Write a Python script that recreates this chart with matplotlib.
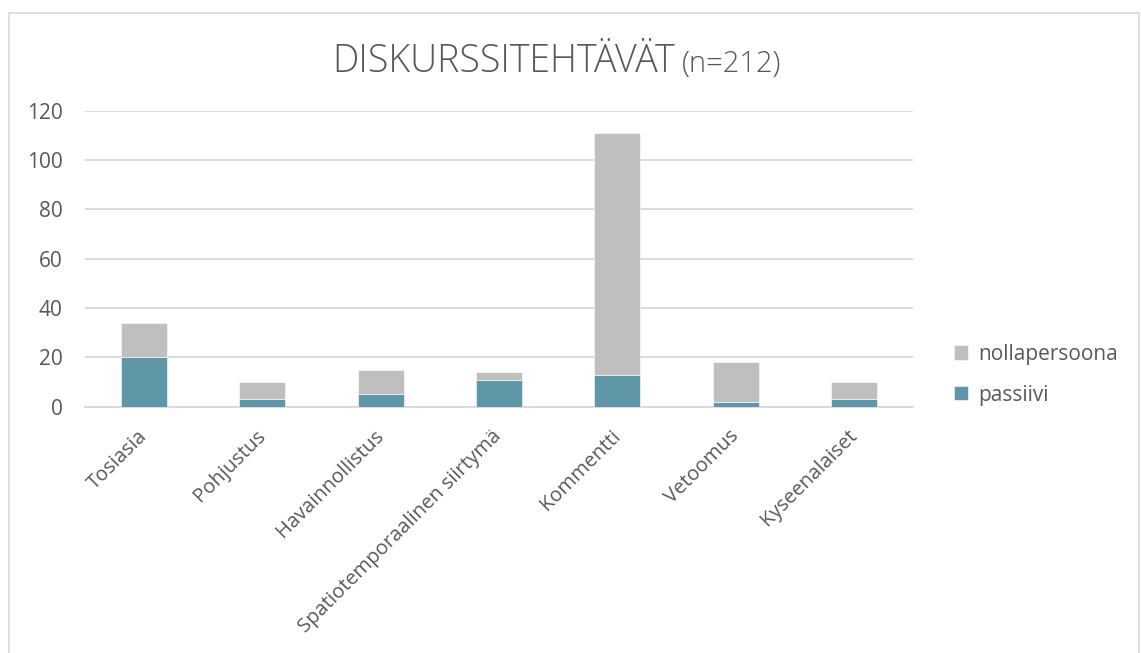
import numpy as np
import matplotlib.pyplot as plt
from matplotlib.patches import Rectangle

# data
categories = ["Tosiasia", "Pohjustus", "Havainnollistus", "Spatiotemporaalinen siirtymä",
              "Kommentti", "Vetoomus", "Kyseenalaiset"]
passiivi = [20, 3, 5, 11, 13, 2, 3]
nollapersoona = [14, 7, 10, 3, 98, 16, 7]

plt.rcParams["font.family"] = ["Open Sans", "DejaVu Sans"]
text_color = "#595959"
grid_color = "#d9d9d9"

fig = plt.figure(figsize=(11.41, 6.53), dpi=100)
ax = fig.add_axes([85 / 1141, 1 - 406.7 / 653, 828 / 1141, 296 / 653])

x = np.arange(len(categories))
ax.bar(x, passiivi, width=0.39, color="#5f97a8", edgecolor="white", linewidth=0.4,
       label="passiivi", zorder=3)
ax.bar(x, nollapersoona, width=0.39, bottom=passiivi, color="#bfbfbf", edgecolor="white",
       linewidth=0.4, label="nollapersoona", zorder=3)

ax.set_xlim(-0.5, len(categories) - 0.5)
ax.set_ylim(0, 120)
ax.set_yticks(range(0, 121, 20))
ax.yaxis.grid(True, color=grid_color, linewidth=1.3, zorder=0)
for s in ["top", "right", "left"]:
    ax.spines[s].set_visible(False)
ax.spines["bottom"].set_color(grid_color)
ax.spines["bottom"].set_linewidth(1.3)
ax.tick_params(length=0, labelsize=15, colors=text_color)
ax.tick_params(axis="y", pad=16)
ax.set_xticks(x)
ax.set_xticklabels(categories, rotation=45, ha="right", va="center",
                   rotation_mode="anchor", fontsize=14.5)
ax.tick_params(axis="x", pad=19)

# title
fig.text(675 / 1141, 0.905, "DISKURSSITEHTÄVÄT", fontsize=27, color=text_color,
         ha="right", va="center", fontweight="light")
fig.text(682 / 1141, 0.902, "(n=212)", fontsize=21, color=text_color, ha="left",
         va="center", fontweight="light")

# legend
handles, labels = ax.get_legend_handles_labels()
leg = fig.legend(handles[::-1], labels[::-1], loc="upper left",
                 bbox_to_anchor=(935 / 1141, 1 - 325 / 653), frameon=False,
                 fontsize=15, handlelength=0.67, handleheight=0.67,
                 handletextpad=0.5, labelspacing=0.95, labelcolor=text_color)

# chart border
fig.patches.append(Rectangle((8.5 / 1141, -0.01), 1130.5 / 1141, 1 - 13 / 653 + 0.01,
                             transform=fig.transFigure, fill=False,
                             edgecolor=grid_color, linewidth=1.2))

plt.savefig("out.png", dpi=100)
